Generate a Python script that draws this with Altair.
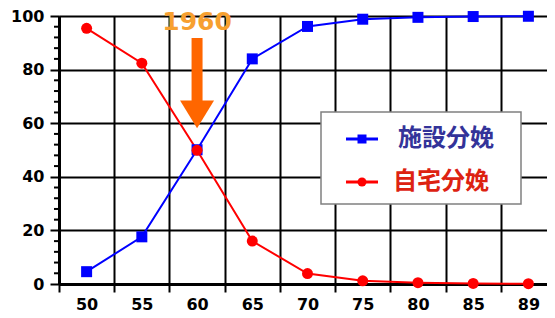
import altair as alt
import pandas as pd

years = ["50", "55", "60", "65", "70", "75", "80", "85", "89"]
facility = [4.6, 17.6, 50.1, 84.0, 96.1, 98.8, 99.5, 99.8, 99.9]
home = [95.4, 82.4, 49.9, 16.0, 3.9, 1.2, 0.5, 0.2, 0.1]
series_names = ["施設分娩", "自宅分娩"]
series_colors = ["#0000FF", "#FF0000"]
label_colors = ["#333399", "#DD2211"]
y_major = [0, 20, 40, 60, 80, 100]
y_minor = [v for v in range(0, 101, 4) if v % 20 != 0]
annot_year = "60"
annot_text = "1960"

rows = []
for y, v in zip(years, facility):
    rows.append({"year": y, "series": series_names[0], "value": v})
for y, v in zip(years, home):
    rows.append({"year": y, "series": series_names[1], "value": v})
df = pd.DataFrame(rows)

FONT = "DejaVu Sans"
CJK = "Noto Sans CJK JP"

xscale = alt.Scale(paddingInner=0, paddingOuter=0, domain=years, range=[0, 497])
yscale = alt.Scale(domain=[0, 100], nice=False)
xaxis = alt.Axis(
    title=None, tickBand="extent", labelAngle=0, grid=True,
    gridColor="black", gridWidth=2, tickColor="black", tickWidth=2,
    tickSize=8, labelPadding=4, domainColor="black", domainWidth=3,
    labelFont=FONT, labelFontSize=16, labelFontWeight="bold",
    labelColor="black",
)
yaxis = alt.Axis(
    title=None, values=y_major, labelOverlap=False,
    tickSize=9, tickWidth=2, tickColor="black",
    grid=True, gridColor="black", gridWidth=2,
    domainColor="black", domainWidth=3, labelPadding=6,
    labelFont=FONT, labelFontSize=16, labelFontWeight="bold", labelColor="black",
)
xenc = alt.X("year:N", sort=years, scale=xscale, axis=xaxis)
yenc = alt.Y("value:Q", scale=yscale, axis=yaxis)

color = alt.Color("series:N", scale=alt.Scale(domain=series_names, range=series_colors), legend=None)
shape = alt.Shape("series:N", scale=alt.Scale(domain=series_names, range=["square", "circle"]), legend=None)

base = alt.Chart(df)
lines = base.mark_line(strokeWidth=2).encode(x=xenc, y=yenc, color=color)
points = base.mark_point(filled=True, size=121, opacity=1).encode(x=xenc, y=yenc, color=color, shape=shape)

# minor ticks on y axis
minor = alt.Chart(pd.DataFrame({"value": y_minor})).mark_rule(color="black", strokeWidth=2).encode(
    y=yenc, x=alt.value(-5), x2=alt.value(0))

# annotation arrow at 1960
arrow_df = pd.DataFrame({"year": [annot_year], "value": [91.8], "bottom": [67.5], "head": [63.3], "ty": [94.8], "label": [annot_text]})
ann = alt.Chart(arrow_df)
shaft = ann.mark_rule(strokeWidth=11, color="#FF6600", strokeCap="butt").encode(
    x=xenc, y=yenc, y2="bottom:Q")
head = ann.mark_point(shape="M-1,-0.82L1,-0.82L0,0.82Z", size=1156, filled=True, color="#FF6600", opacity=1).encode(
    x=xenc, y=alt.Y("head:Q", scale=yscale, axis=yaxis))
atext = ann.mark_text(font=FONT, fontSize=25, fontWeight="bold", color="#F7A030", baseline="alphabetic", clip=False).encode(
    x=xenc, y=alt.Y("ty:Q", scale=yscale, axis=yaxis), text="label:N")

# legend box
one = pd.DataFrame({"a": [0]})
lb = alt.Chart(one)
box = lb.mark_rect(fill="white", stroke="#808080", strokeWidth=1.5).encode(
    x=alt.value(262), x2=alt.value(462), y=alt.value(96), y2=alt.value(188))
leg_layers = []
for name, c, lc, sh, ly, tx in zip(series_names, series_colors, label_colors, ["square", "circle"], [123, 166], [339, 334]):
    leg_layers.append(lb.mark_rule(color=c, strokeWidth=3).encode(
        x=alt.value(287), x2=alt.value(319), y=alt.value(ly)))
    leg_layers.append(lb.mark_point(shape=sh, filled=True, size=81, color=c, opacity=1).encode(
        x=alt.value(303), y=alt.value(ly)))
    leg_layers.append(lb.mark_text(text=name, font=CJK, fontSize=24, fontWeight="bold", color=lc,
                                   align="left", baseline="middle").encode(
        x=alt.value(tx), y=alt.value(ly)))

chart = alt.layer(lines, points, minor, shaft, head, atext, box, *leg_layers).properties(
    width=488, height=268,
    autosize=alt.AutoSizeParams(type="none"),
    padding={"left": 51, "top": 8, "right": 0, "bottom": 32},
).configure_view(stroke=None).configure(background="white")

chart.save("out.html", embed_options={"renderer": "svg", "actions": False})
